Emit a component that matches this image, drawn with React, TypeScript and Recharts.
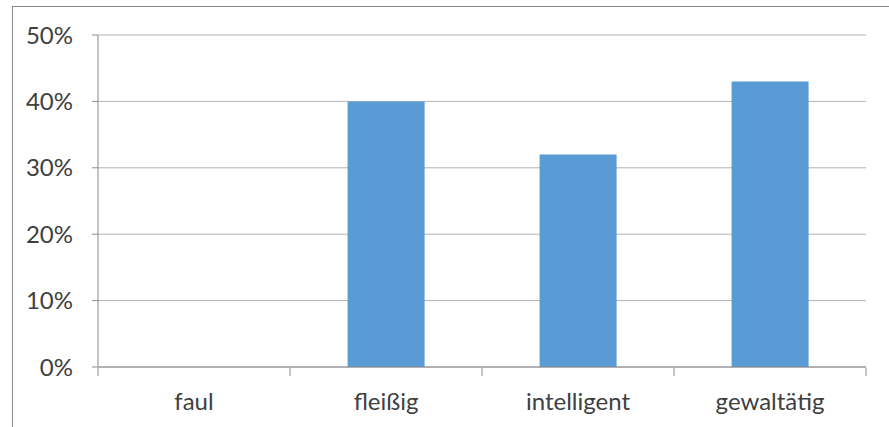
import React from "react";
import { BarChart, Bar, XAxis, YAxis, CartesianGrid } from "recharts";

const categories = ["faul", "fleißig", "intelligent", "gewaltätig"];
const values = [0, 40, 32, 43];
const yTicks = [0, 10, 20, 30, 40, 50];
const boundaryTicks = [0, 1, 2, 3, 4];

const data = categories.map((c, i) => ({ name: c, value: values[i], pos: i + 0.5 }));

const font = "Lato, 'Open Sans', sans-serif";

export default function App() {
  return (
    <div style={{ position: "absolute", left: 0, top: 0, width: 889, height: 427, background: "#fff", overflow: "hidden", fontFamily: font }}>
      <div style={{ position: "absolute", left: 12, top: 6, width: 900, height: 500, border: "1px solid #8a8a8a", boxSizing: "border-box" }} />
      <div style={{ position: "absolute", left: 0, top: 0 }}>
        <BarChart width={889} height={427} data={data} margin={{ top: 35, right: 23, bottom: 0, left: 0 }} barCategoryGap="30%">
          <CartesianGrid vertical={false} stroke="#b3b3b3" strokeWidth={1} />
          <XAxis
            xAxisId="b"
            type="number"
            dataKey="pos"
            domain={[0, 4]}
            ticks={boundaryTicks}
            interval={0}
            tickFormatter={() => " "}
            height={59}
            axisLine={false}
            tickSize={8}
            tickLine={{ stroke: "#8a8a8a" }}
            allowDataOverflow
          />
          <XAxis
            dataKey="name"
            height={1}
            tickLine={false}
            axisLine={{ stroke: "#8a8a8a" }}
            tickMargin={20}
            tick={{ fill: "#404040", fontSize: 24, fontFamily: font }}
          />
          <YAxis
            domain={[0, 50]}
            ticks={yTicks}
            tickFormatter={(v) => `${v}%`}
            width={98}
            tickSize={6}
            tickMargin={19}
            axisLine={{ stroke: "#8a8a8a" }}
            tickLine={{ stroke: "#8a8a8a" }}
            tick={{ fill: "#404040", fontSize: 24, fontFamily: font }}
          />
          <Bar dataKey="value" fill="#5b9bd5" isAnimationActive={false} />
        </BarChart>
      </div>
    </div>
  );
}
